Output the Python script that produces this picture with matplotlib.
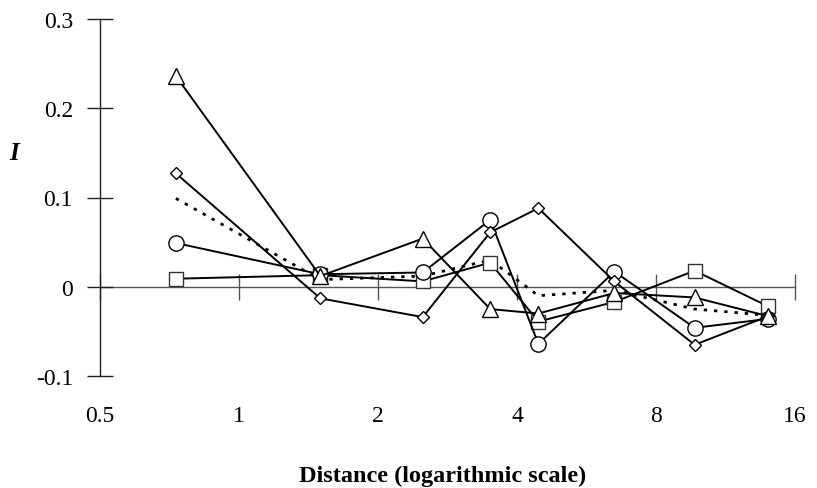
import matplotlib
matplotlib.use("Agg")
import matplotlib.pyplot as plt
from matplotlib.ticker import FixedLocator, NullLocator, NullFormatter

plt.rcParams['font.family'] = ['Liberation Serif', 'DejaVu Serif']

distance = [0.73, 1.5, 2.5, 3.5, 4.45, 6.5, 9.7, 14.0]
triangle_vals = [0.236, 0.012, 0.054, -0.025, -0.030, -0.007, -0.012, -0.033]
diamond_vals = [0.127, -0.013, -0.034, 0.061, 0.088, 0.006, -0.065, -0.033]
circle_vals = [0.049, 0.014, 0.016, 0.075, -0.064, 0.017, -0.046, -0.036]
square_vals = [0.009, 0.013, 0.006, 0.027, -0.039, -0.017, 0.018, -0.022]
mean_vals = [0.099, 0.008, 0.012, 0.030, -0.010, -0.004, -0.025, -0.032]

x_ticks = [0.5, 1, 2, 4, 8, 16]
x_tick_labels = ["0.5", "1", "2", "4", "8", "16"]
y_ticks = [-0.1, 0, 0.1, 0.2, 0.3]
y_tick_labels = ["-0.1", "0", "0.1", "0.2", "0.3"]

fig = plt.figure(figsize=(8.17, 4.89), dpi=100)
ax = fig.add_axes([100/817, 1-377/489, 695/817, 357/489])

ax.set_xscale('log', base=2)
ax.set_xlim(0.5, 16)
ax.set_ylim(-0.1, 0.3)

lw = 1.4
ax.plot(distance, mean_vals, color='black', lw=2.0, ls=(0, (1.2, 2.5)), zorder=2)
ax.plot(distance, square_vals, color='black', lw=lw, marker='s', ms=10,
        mfc='white', mec='#333333', mew=1.0, zorder=3)
ax.plot(distance, circle_vals, color='black', lw=lw, marker='o', ms=11,
        mfc='white', mec='black', mew=1.0, zorder=4)
ax.plot(distance, diamond_vals, color='black', lw=lw, marker='D', ms=6.5,
        mfc='white', mec='black', mew=1.0, zorder=5)
ax.plot(distance, triangle_vals, color='black', lw=lw, marker='^', ms=11,
        mfc='white', mec='black', mew=1.0, zorder=6)

for s in ['top', 'right', 'bottom']:
    ax.spines[s].set_visible(False)
ax.spines['left'].set_linewidth(1.0)
ax.spines['left'].set_color('#222222')

ax.yaxis.set_major_locator(FixedLocator(y_ticks))
ax.set_yticklabels(y_tick_labels)
ax.yaxis.set_minor_locator(NullLocator())
ax.tick_params(axis='y', direction='inout', length=19, width=1.0, pad=10, labelsize=17,
               color='#222222')

ax.xaxis.set_major_locator(FixedLocator(x_ticks))
ax.set_xticklabels(x_tick_labels)
ax.xaxis.set_minor_locator(NullLocator())
ax.tick_params(axis='x', length=0, pad=21, labelsize=17)

sec = ax.secondary_xaxis(0.25)
sec.set_xscale('log', base=2)
sec.xaxis.set_major_locator(FixedLocator(x_ticks))
sec.xaxis.set_major_formatter(NullFormatter())
sec.xaxis.set_minor_locator(NullLocator())
sec.tick_params(axis='x', direction='inout', length=19, width=1.0, color='#555555')
sec.spines['bottom'].set_color('#555555')
sec.spines['bottom'].set_linewidth(1.0)

fig.text(443/817, 1-482/489, "Distance (logarithmic scale)", ha='center', va='baseline',
         fontsize=17.5, fontweight='bold')
fig.text(14.5/817, 1-160/489, "I", ha='center', va='baseline', fontsize=18,
         fontweight='bold', fontstyle='italic')

fig.savefig("out.png", dpi=100)
